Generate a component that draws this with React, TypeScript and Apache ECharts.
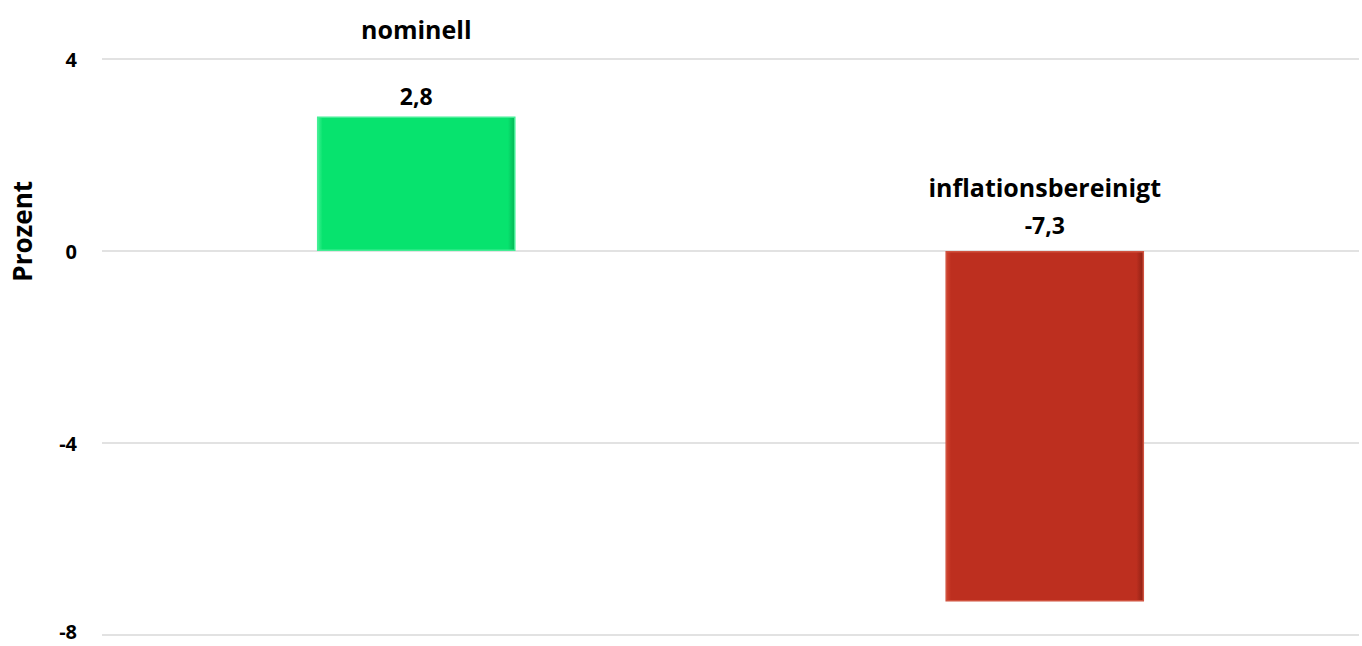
import React, { useEffect, useRef } from "react";
import * as echarts from "echarts";

const categories = ["nominell", "inflationsbereinigt"];
const values = [2.8, -7.3];
const yTicks = [-8, -4, 0, 4];
const yAxisTitle = "Prozent";

const FONT = "'Open Sans', Lato, sans-serif";

function bevel(main: string, light: string, dark: string) {
  return new echarts.graphic.LinearGradient(0, 0, 1, 0, [
    { offset: 0, color: light },
    { offset: 0.025, color: main },
    { offset: 0.965, color: main },
    { offset: 1, color: dark },
  ]);
}

export default function App() {
  const ref = useRef<HTMLDivElement>(null);
  useEffect(() => {
    if (!ref.current) return;
    const chart = echarts.init(ref.current, undefined, { renderer: "svg" });
    const styles = [
      { color: bevel("#07E36E", "#3CF08F", "#06B657"), border: "#45EE96" },
      { color: bevel("#BD2F1F", "#D24530", "#8E2014"), border: "#D0523F" },
    ];
    const valueDist = [8, 13];
    const nameDist = [74, 50];
    const tickStyle = {
      fontFamily: FONT,
      fontWeight: "bold",
      fontSize: 20,
      lineHeight: 20,
      color: "#000",
    };
    chart.setOption({
      animation: false,
      grid: {
        left: 102,
        right: 3,
        top: 59,
        bottom: 11,
        containLabel: false,
        outerBoundsMode: "none",
      },
      graphic: [
        {
          type: "text",
          left: 9,
          top: 181,
          rotation: Math.PI / 2,
          style: {
            text: yAxisTitle,
            fontFamily: FONT,
            fontWeight: "bold",
            fontSize: 26,
            fill: "#000",
          },
        },
      ],
      xAxis: {
        type: "category",
        data: categories,
        axisLine: { show: false },
        axisTick: { show: false },
        axisLabel: { show: false },
      },
      yAxis: {
        type: "value",
        min: yTicks[0],
        max: yTicks[yTicks.length - 1],
        interval: 4,
        axisLine: { show: false },
        axisTick: { show: false },
        axisLabel: {
          ...tickStyle,
          margin: 25,
          formatter: (v: number) => (v === yTicks[0] ? `{low|${v}}` : `{t|${v}}`),
          rich: {
            t: { ...tickStyle },
            low: { ...tickStyle, padding: [0, 0, 8, 0] },
          },
        },
        splitLine: { lineStyle: { color: "#D9D9D9", width: 1.5 } },
      },
      series: [
        {
          type: "bar",
          barWidth: "31.6%",
          data: values.map((v, i) => ({
            value: v,
            itemStyle: { color: styles[i].color, borderColor: styles[i].border, borderWidth: 1.5 },
            label: { distance: valueDist[i] },
          })),
          label: {
            show: true,
            position: "top",
            fontFamily: FONT,
            fontWeight: "bold",
            fontSize: 23,
            lineHeight: 26,
            color: "#000",
            formatter: (p: any) => String(p.value).replace(".", ","),
          },
        },
        {
          type: "bar",
          barWidth: "31.6%",
          barGap: "-100%",
          silent: true,
          data: values.map((v, i) => ({
            value: v,
            itemStyle: { color: "rgba(0,0,0,0)" },
            label: { distance: nameDist[i] },
          })),
          label: {
            show: true,
            position: "top",
            fontFamily: FONT,
            fontWeight: "bold",
            fontSize: 25,
            lineHeight: 28,
            color: "#000",
            formatter: (p: any) => p.name,
          },
        },
      ],
    });
    return () => chart.dispose();
  }, []);
  return (
    <div
      ref={ref}
      style={{ position: "fixed", left: 0, top: 0, width: 1362, height: 646, background: "#fff" }}
    />
  );
}
